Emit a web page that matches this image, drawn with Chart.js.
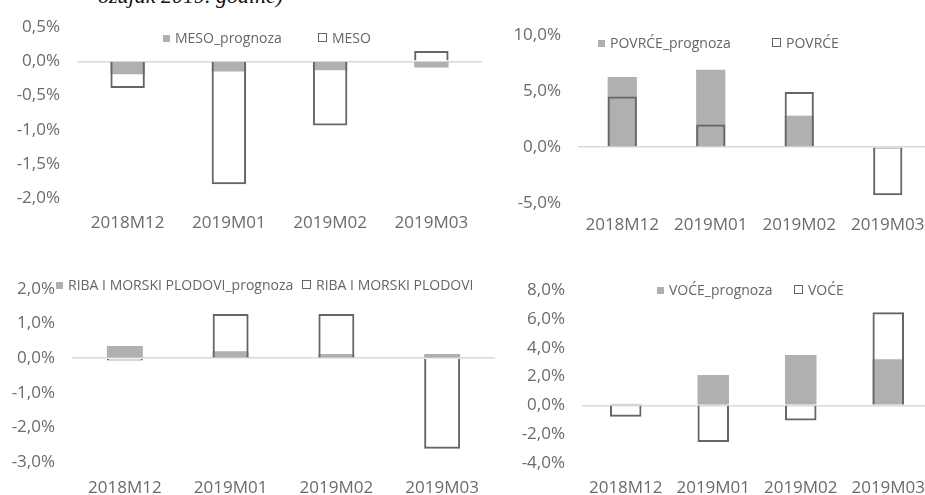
<!DOCTYPE html>
<html>
<head>
<meta charset="utf-8">
<script src="https://cdn.jsdelivr.net/npm/chart.js@4"></script>
<style>
  html, body { margin: 0; padding: 0; background: #fff; overflow: hidden; }
  body { width: 925px; height: 495px; position: relative; }
  .box { position: absolute; }
  .cap { position: absolute; left: 98px; top: -17px; font: italic 22px "Liberation Serif", serif; color: #111; white-space: nowrap; }
  .leg { position: absolute; font: 14px "Open Sans", sans-serif; color: #666; white-space: nowrap; line-height: 16px; }
  .mk { position: absolute; }
</style>
</head>
<body>
<div class="cap">ožujak 2019. godine)</div>
<div class="box" style="left:0;top:0;width:490px;height:240px"><canvas id="c1"></canvas></div>
<div class="box" style="left:495px;top:0;width:445px;height:240px"><canvas id="c2"></canvas></div>
<div class="box" style="left:0;top:250px;width:505px;height:245px"><canvas id="c3"></canvas></div>
<div class="box" style="left:505px;top:250px;width:435px;height:245px"><canvas id="c4"></canvas></div>
<script>
const categories = ['2018M12', '2019M01', '2019M02', '2019M03'];

const mesoPrognoza = [-0.19, -0.15, -0.13, -0.09];
const meso = [-0.39, -1.80, -0.94, 0.15];

const povrcePrognoza = [6.25, 6.9, 2.8, -0.15];
const povrce = [4.5, 2.0, 4.9, -4.3];

const ribaPrognoza = [0.35, 0.20, 0.12, 0.12];
const riba = [-0.07, 1.28, 1.28, -2.62];

const vocePrognoza = [0.1, 2.1, 3.5, 3.2];
const voce = [-0.8, -2.55, -1.05, 6.45];

const fillGray = '#b0b0b0';
const edgeGray = '#666666';
const textGray = '#6b6b6b';

function pct(v) {
  return Number(v).toFixed(1).replace('.', ',') + '%';
}

// one panel: gray forecast bar under an empty outlined bar
function panel(id, name, fc, actual, y, lay) {
  return new Chart(document.getElementById(id), {
    type: 'bar',
    data: {
      labels: categories,
      datasets: [
        { label: name + '_prognoza', data: fc, backgroundColor: fillGray, borderWidth: 0, order: 1 },
        { label: name, data: actual, backgroundColor: 'rgba(0,0,0,0)', borderColor: edgeGray, borderWidth: 2, order: 0 }
      ]
    },
    options: {
      responsive: true,
      maintainAspectRatio: false,
      animation: false,
      layout: { padding: { top: lay.top, right: lay.right, left: 0, bottom: 0 } },
      datasets: { bar: { grouped: false, categoryPercentage: lay.cat, barPercentage: 1 } },
      plugins: { legend: { display: false }, tooltip: { enabled: false } },
      scales: {
        x: {
          grid: { display: false },
          border: { display: false },
          ticks: { color: textGray, font: { family: 'Open Sans', size: 17 }, padding: lay.xpad, maxRotation: 0 },
          afterFit: s => { s.height = lay.xh; }
        },
        y: {
          min: y.min, max: y.max,
          border: { display: false },
          grid: {
            drawTicks: false,
            lineWidth: 1.5,
            color: c => (c.tick && c.tick.value === 0) ? '#d9d9d9' : 'rgba(0,0,0,0)'
          },
          ticks: { stepSize: y.step, color: textGray, font: { family: 'Open Sans', size: 17 }, padding: 17, callback: pct },
          afterFit: s => { s.width = lay.yw; }
        }
      }
    }
  });
}

const ch1 = panel('c1', 'MESO', mesoPrognoza, meso, { min: -2, max: 0.5, step: 0.5 },
  { top: 21.5, right: 8, yw: 77, xh: 42, xpad: 7, cat: 0.34 });
const ch2 = panel('c2', 'POVRĆE', povrcePrognoza, povrce, { min: -5, max: 10, step: 5 },
  { top: 35, right: 8, yw: 83, xh: 37, xpad: 4, cat: 0.33 });
const ch3 = panel('c3', 'RIBA I MORSKI PLODOVI', ribaPrognoza, riba, { min: -3, max: 2, step: 1 },
  { top: 39, right: 10, yw: 72, xh: 33, xpad: 8, cat: 0.34 });
const ch4 = panel('c4', 'VOĆE', vocePrognoza, voce, { min: -4, max: 8, step: 2 },
  { top: 40, right: 8, yw: 77, xh: 32, xpad: 7, cat: 0.36 });

// legends sit over the plot area like in the original
function legend(chart, x1, x2, yc) {
  const ds = chart.data.datasets;
  const m1 = document.createElement('div');
  m1.className = 'mk';
  m1.style.cssText = `left:${x1}px;top:${yc - 3}px;width:7px;height:7px;background:${fillGray}`;
  const t1 = document.createElement('div');
  t1.className = 'leg';
  t1.style.cssText = `left:${x1 + 12}px;top:${yc - 8}px`;
  t1.textContent = ds[0].label;
  const m2 = document.createElement('div');
  m2.className = 'mk';
  m2.style.cssText = `left:${x2}px;top:${yc - 5}px;width:7px;height:7px;border:1.5px solid ${edgeGray}`;
  const t2 = document.createElement('div');
  t2.className = 'leg';
  t2.style.cssText = `left:${x2 + 14}px;top:${yc - 8}px`;
  t2.textContent = ds[1].label;
  [m1, t1, m2, t2].forEach(e => document.body.appendChild(e));
}

legend(ch1, 163, 318, 38);
legend(ch2, 598, 772, 43);
legend(ch3, 56, 302, 285);
legend(ch4, 657, 794, 290);
</script>
</body>
</html>
